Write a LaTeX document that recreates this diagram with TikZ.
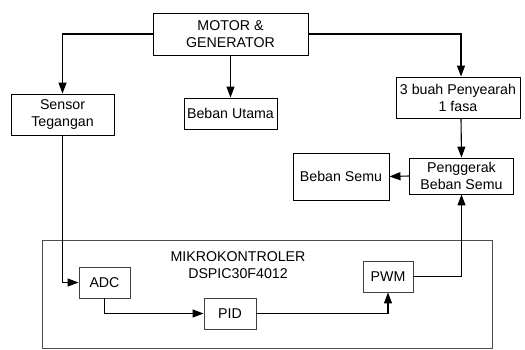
\documentclass[tikz,border=0pt]{standalone}
\usepackage{fontspec}
\setmainfont{Liberation Sans}
\usetikzlibrary{arrows.meta,calc}
\begin{document}
\begin{tikzpicture}[x=1pt,y=-1pt,
  box/.style={draw=black,line width=0.9pt,rectangle,inner sep=0pt,align=center,font=\fontsize{14.2}{17}\selectfont},
  ibox/.style={box,draw=black!75},
  conn/.style={line width=1.1pt,-{Triangle[length=11pt,width=8pt]}},
  plain/.style={line width=1.1pt}]
\useasboundingbox (0,0) rectangle (525,349);
\node[draw=black!70,line width=0.9pt,minimum width=450pt,minimum height=108pt,inner sep=0pt] (mcu) at (267,294) {};
\node[box,minimum width=155pt,minimum height=42pt] (motor) at (230.5,34) {MOTOR \&\\GENERATOR};
\node[box,minimum width=103pt,minimum height=41pt] (sensor) at (62.5,114.5) {Sensor\\Tegangan};
\node[box,minimum width=93pt,minimum height=31pt] (butama) at (230.5,113.5) {Beban Utama};
\node[box,minimum width=124pt,minimum height=41pt] (peny) at (458,97.5) {3 buah Penyearah\\1 fasa};
\node[box,minimum width=104pt,minimum height=36pt] (pengg) at (461.5,176) {Penggerak\\Beban Semu};
\node[box,minimum width=96pt,minimum height=47pt] (bsemu) at (341,176.5) {Beban Semu};
\node[align=center,inner sep=0pt,font=\fontsize{14.2}{17}\selectfont] (mculabel) at (238,265.5) {MIKROKONTROLER\\DSPIC30F4012};
\node[ibox,minimum width=51pt,minimum height=31pt] (adc) at (104.5,282.5) {ADC};
\node[ibox,minimum width=52pt,minimum height=31pt] (pid) at (230,313.5) {PID};
\node[ibox,minimum width=50pt,minimum height=31pt] (pwm) at (388,276.5) {PWM};
\draw[conn] (motor.west) -| (sensor.north);
\draw[conn] (motor.south) -- (butama.north);
\coordinate (penytop) at ($(peny.north)+(3,0)$);
\coordinate (penybot) at ($(peny.south)+(3,0)$);
\draw[conn] (motor.east) -| (penytop);
\draw[conn] (penybot) -- (pengg.north);
\draw[conn] (pengg.west) -- (bsemu.east);
\draw[conn] (sensor.south) |- (adc.west);
\draw[conn] (adc.south) |- (pid.west);
\draw[conn] (pid.east) -| (pwm.south);
\draw[conn] (pwm.east) -| (pengg.south);
\end{tikzpicture}
\end{document}
